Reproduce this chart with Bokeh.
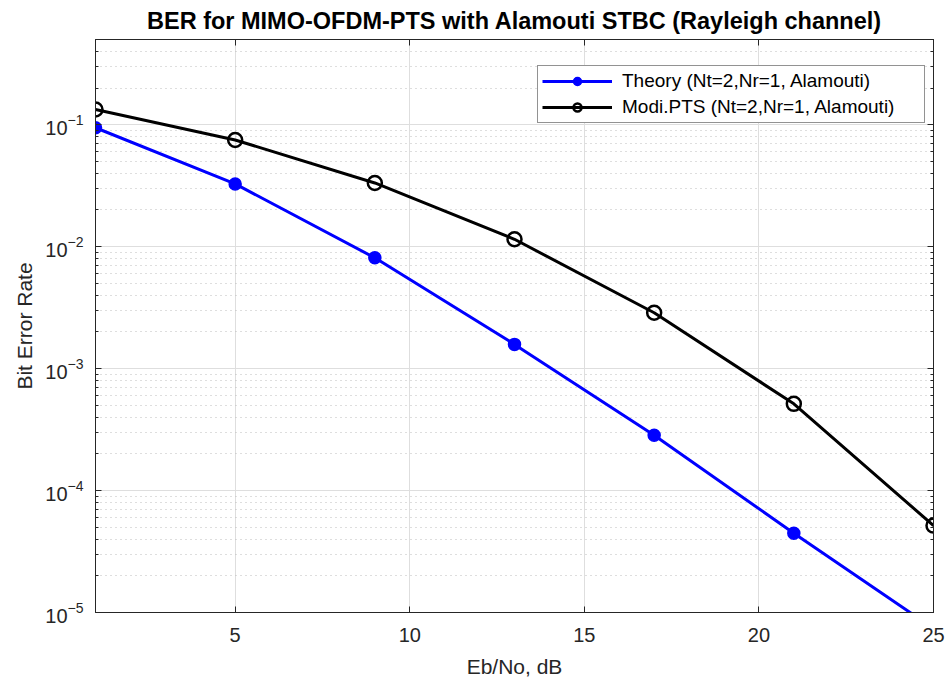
import numpy as np
from bokeh.plotting import figure
from bokeh.models import (Range1d, FixedTicker, LinearAxis, LogTickFormatter,
                          Legend, LegendItem, CustomJSTickFormatter)
from bokeh.embed import file_html
from bokeh.resources import INLINE

# ---- data ----
ebno_db = [1, 5, 9, 13, 17, 21, 25]
ber_theory = [0.0945, 0.0327, 0.0081, 0.00158, 2.84e-4, 4.47e-5, 7.4e-6]
ber_modi_pts = [0.1334, 0.075, 0.0333, 0.0115, 0.00287, 5.14e-4, 5.16e-5]

x_ticks = [5, 10, 15, 20, 25]
y_major = [1e-5, 1e-4, 1e-3, 1e-2, 1e-1]
y_minor = [k * d for d in [1e-5, 1e-4, 1e-3, 1e-2, 1e-1] for k in range(2, 10) if k * d <= 0.5]

title_text = "BER for MIMO-OFDM-PTS with Alamouti STBC (Rayleigh channel)"
x_label = "Eb/No, dB"
y_label = "Bit Error Rate"
label_theory = "Theory (Nt=2,Nr=1, Alamouti)"
label_pts = "Modi.PTS (Nt=2,Nr=1, Alamouti)"

FONT = "Liberation Sans"
AX = "#262626"

p = figure(width=949, height=682, output_backend="svg", toolbar_location=None,
           y_axis_type="log", x_range=Range1d(1, 25), y_range=Range1d(1e-5, 0.5),
           min_border_left=95, min_border_right=16, min_border_top=39, min_border_bottom=70)
p.background_fill_color = "white"
p.border_fill_color = "white"
p.outline_line_color = AX
p.outline_line_width = 1

p.title.text = title_text
p.title.align = "center"
p.title.text_font = FONT
p.title.text_font_size = "23.5px"
p.title.text_font_style = "bold"
p.title.text_color = "black"
p.title.standoff = 4

yt = FixedTicker(ticks=y_major, minor_ticks=y_minor)
xt = FixedTicker(ticks=x_ticks, minor_ticks=[])

xa = p.xaxis[0]
xa.ticker = xt
ya = p.yaxis[0]
ya.ticker = yt
ya.formatter = LogTickFormatter()

for ax in (xa, ya):
    ax.axis_line_color = AX
    ax.major_tick_line_color = AX
    ax.minor_tick_line_color = AX
    ax.major_tick_in = 6
    ax.major_tick_out = 0
    ax.minor_tick_in = 3
    ax.minor_tick_out = 0
    ax.major_label_text_font = FONT
    ax.major_label_text_font_size = "20px"
    ax.major_label_text_color = AX
    ax.axis_label_text_font = FONT
    ax.axis_label_text_font_size = "21px"
    ax.axis_label_text_font_style = "normal"
    ax.axis_label_text_color = AX

xa.axis_label = x_label
ya.axis_label = y_label
xa.major_label_standoff = 15
xa.axis_label_standoff = 10
ya.major_label_standoff = 12
ya.axis_label_standoff = 6

blank = CustomJSTickFormatter(code="return ' '")
# box ticks on top and right
top_ax = LinearAxis(ticker=xt, formatter=blank, major_label_standoff=0,
                    major_label_text_font_size="1px",
                    axis_line_color=AX, major_tick_line_color=AX, major_tick_in=6, major_tick_out=0,
                    minor_tick_line_color=None)
right_ax = LinearAxis(ticker=yt, formatter=blank, major_label_standoff=0,
                      major_label_text_font_size="1px",
                      axis_line_color=AX, major_tick_line_color=AX, minor_tick_line_color=AX,
                      major_tick_in=6, major_tick_out=0, minor_tick_in=3, minor_tick_out=0)
p.add_layout(top_ax, "above")
p.add_layout(right_ax, "right")

# grids
p.xgrid.ticker = xt
p.ygrid.ticker = yt
p.xgrid.grid_line_color = "#dedede"
p.ygrid.grid_line_color = "#dedede"
p.ygrid.minor_grid_line_color = "#bcbcbc"
p.ygrid.minor_grid_line_dash = "1 4"
p.ygrid.minor_grid_line_width = 1

l1 = p.line(ebno_db, ber_theory, line_color="#0000ff", line_width=3)
c1 = p.scatter(ebno_db, ber_theory, size=12, marker="circle", fill_color="#0000ff",
               line_color="#0000ff", line_width=1.5)
l2 = p.line(ebno_db, ber_modi_pts, line_color="black", line_width=3)
c2 = p.scatter(ebno_db, ber_modi_pts, size=14, marker="circle", fill_color=None,
               line_color="black", line_width=2.5)

legend = Legend(items=[LegendItem(label=label_theory, renderers=[l1, c1]),
                       LegendItem(label=label_pts, renderers=[l2, c2])],
                location=(442, 489))
legend.margin = 0
legend.label_text_font = FONT
legend.label_text_font_size = "19px"
legend.label_text_color = "black"
legend.glyph_width = 70
legend.glyph_height = 20
legend.label_height = 20
legend.label_standoff = 10
legend.label_width = 298
legend.spacing = 4
legend.padding = 4
legend.border_line_color = AX
legend.border_line_width = 1
legend.background_fill_alpha = 1
p.add_layout(legend)

open("out.html", "w").write(file_html(p, INLINE))
